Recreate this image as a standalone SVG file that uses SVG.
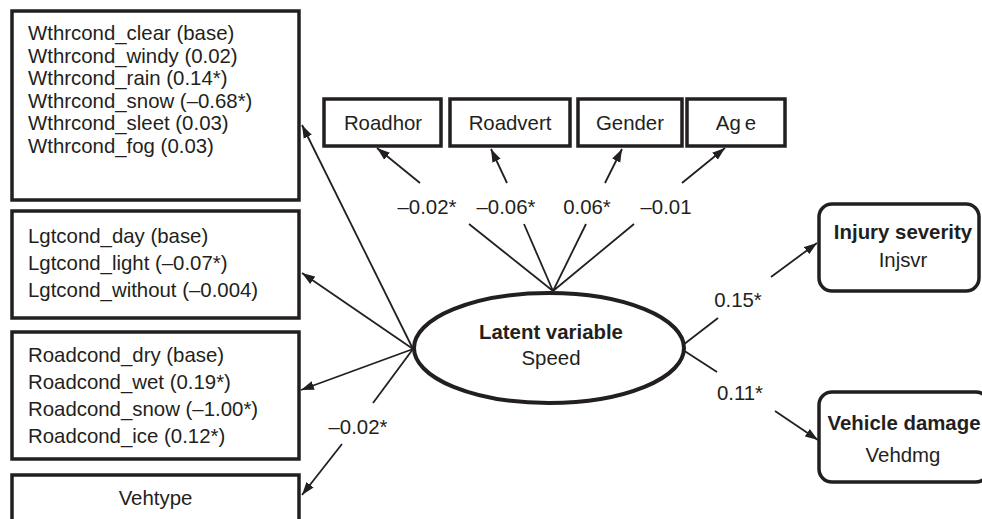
<svg xmlns="http://www.w3.org/2000/svg" width="982" height="519" viewBox="0 0 982 519">
<style>
text{font-family:"Liberation Sans",Arial,sans-serif;font-size:20.4px;fill:#231f20}
.b{font-weight:bold}
.m{text-anchor:middle}
.box{fill:#fff;stroke:#231f20;stroke-width:3.5}
.ln{stroke:#231f20;stroke-width:1.8;fill:none}
.ar{marker-end:url(#ah)}
</style>
<defs>
<marker id="ah" markerUnits="userSpaceOnUse" markerWidth="14" markerHeight="10" viewBox="0 0 14 10" refX="13" refY="5" orient="auto">
<path d="M0,0.5 L13,5 L0,9.5 z" fill="#231f20"/>
</marker>
</defs>
<rect width="982" height="519" fill="#fff"/>
<g id="connectors">
<line class="ln ar" x1="413" y1="349" x2="302" y2="125"/>
<line class="ln ar" x1="413" y1="349" x2="302" y2="273"/>
<line class="ln ar" x1="413" y1="349" x2="301" y2="390"/>
<line class="ln" x1="413" y1="349" x2="373" y2="403"/>
<line class="ln ar" x1="342" y1="444" x2="302" y2="495"/>
<text class="m" x="358" y="434">–0.02*</text>
<line class="ln" x1="553" y1="291" x2="469" y2="224"/>
<line class="ln ar" x1="420" y1="183" x2="377" y2="148"/>
<text class="m" x="427" y="214">–0.02*</text>
<line class="ln" x1="553" y1="291" x2="524" y2="224"/>
<line class="ln ar" x1="507" y1="183" x2="491" y2="149"/>
<text class="m" x="506" y="214">–0.06*</text>
<line class="ln" x1="553" y1="291" x2="586" y2="224"/>
<line class="ln ar" x1="605" y1="183" x2="622" y2="149"/>
<text class="m" x="587" y="214">0.06*</text>
<line class="ln" x1="553" y1="291" x2="634" y2="224"/>
<line class="ln ar" x1="682" y1="183" x2="725" y2="148"/>
<text class="m" x="666" y="214">–0.01</text>
<line class="ln" x1="683" y1="345" x2="718" y2="318"/>
<line class="ln ar" x1="771" y1="277" x2="817" y2="243"/>
<text class="m" x="738" y="307">0.15*</text>
<line class="ln" x1="683" y1="350" x2="717" y2="372"/>
<line class="ln ar" x1="775" y1="411" x2="818" y2="440"/>
<text class="m" x="740" y="400">0.11*</text>
</g>
<g id="wthrcond">
<rect class="box" x="12" y="11" width="287" height="189"/>
<text x="28" y="40">Wthrcond_clear (base)</text>
<text x="28" y="62.6">Wthrcond_windy (0.02)</text>
<text x="28" y="85.2">Wthrcond_rain (0.14*)</text>
<text x="28" y="107.8">Wthrcond_snow (–0.68*)</text>
<text x="28" y="130.4">Wthrcond_sleet (0.03)</text>
<text x="28" y="153">Wthrcond_fog (0.03)</text>
</g>
<g id="lgtcond">
<rect class="box" x="12" y="211" width="287" height="107"/>
<text x="28" y="243">Lgtcond_day (base)</text>
<text x="28" y="270">Lgtcond_light (–0.07*)</text>
<text x="28" y="297">Lgtcond_without (–0.004)</text>
</g>
<g id="roadcond">
<rect class="box" x="12" y="332" width="287" height="127"/>
<text x="28" y="362">Roadcond_dry (base)</text>
<text x="28" y="389">Roadcond_wet (0.19*)</text>
<text x="28" y="416">Roadcond_snow (–1.00*)</text>
<text x="28" y="443">Roadcond_ice (0.12*)</text>
</g>
<g id="vehtype">
<rect class="box" x="12" y="475" width="287" height="50"/>
<text class="m" x="155.5" y="505">Vehtype</text>
</g>
<g id="roadhor">
<rect class="box" x="324" y="99" width="117" height="47"/>
<text class="m" x="383" y="130">Roadhor</text>
</g>
<g id="roadvert">
<rect class="box" x="450" y="99" width="120" height="47"/>
<text class="m" x="510" y="130">Roadvert</text>
</g>
<g id="gender">
<rect class="box" x="578" y="99" width="104" height="47"/>
<text class="m" x="630" y="130">Gender</text>
</g>
<g id="age">
<rect class="box" x="687" y="99" width="98" height="47"/>
<text class="m" x="736" y="130">Ag<tspan dx="4">e</tspan></text>
</g>
<g id="speed">
<ellipse cx="549" cy="348" rx="135" ry="55" fill="#fff" stroke="#231f20" stroke-width="4"/>
<text class="m b" x="551" y="339">Latent variable</text>
<text class="m" x="551" y="365">Speed</text>
</g>
<g id="injsvr">
<rect class="box" x="819" y="204" width="160" height="87" rx="13"/>
<text class="m b" x="903" y="239">Injury severity</text>
<text class="m" x="903" y="267">Injsvr</text>
</g>
<g id="vehdmg">
<rect class="box" x="819" y="392" width="170" height="90" rx="13"/>
<text class="m b" x="904" y="430">Vehicle damage</text>
<text class="m" x="903" y="462">Vehdmg</text>
</g>
</svg>
